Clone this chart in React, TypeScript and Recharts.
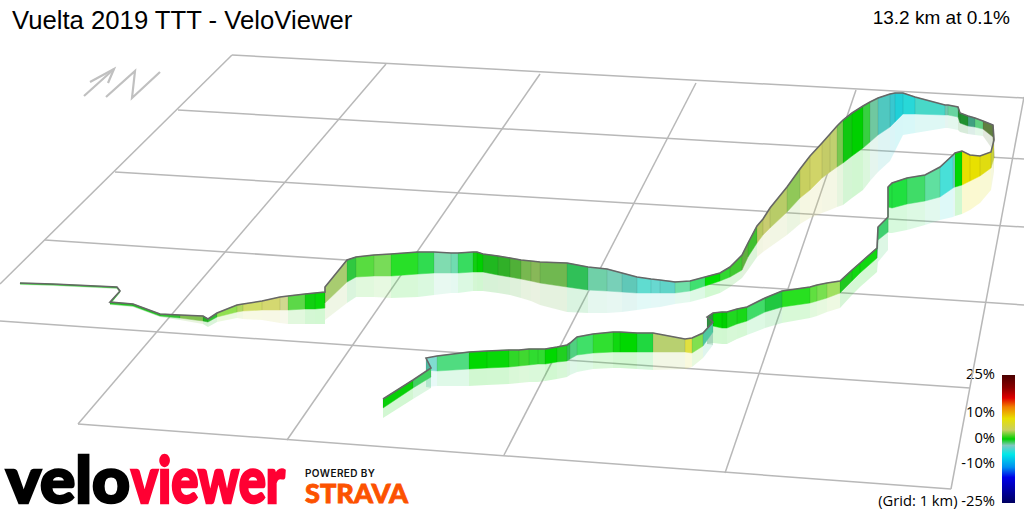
import { Area, ComposedChart, Line, XAxis, YAxis } from "recharts";

const WIDTH = 1024;
const HEIGHT = 512;

// route, in drawing order, start to finish
const routeX = [
  20, 53, 117, 120, 110, 133, 160, 180, 203, 208,
  217, 237, 243, 262, 280, 288, 305, 315, 325, 325,
  347, 356, 374, 391, 418, 434, 451, 458, 473, 477,
  483, 498, 510, 521, 531, 540, 567, 588, 607, 622,
  637, 651, 660, 675, 690, 705, 720, 730, 742, 748,
  757, 763, 770, 787, 800, 810, 822, 830, 837, 843,
  852, 863, 870, 878, 890, 895, 903, 915, 945, 948,
  958, 960, 968, 975, 983, 993, 994, 991, 980, 970,
  962, 955, 953, 940, 925, 907, 892, 888, 888, 878,
  877, 860, 852, 840, 827, 817, 810, 782, 765, 747,
  737, 727, 722, 713, 707, 713, 703, 692, 685, 653,
  637, 620, 613, 593, 577, 570, 567, 557, 545, 538,
  529, 519, 509, 487, 469, 437, 426, 431, 413, 383,
];
const routeTop = [
  283, 284, 287, 291, 302, 304, 314, 315, 316, 319,
  313, 305, 304, 301, 297, 296, 294, 293, 292, 287,
  260, 257, 255, 254, 252, 252, 253, 253, 252, 252,
  254, 256, 258, 260, 261, 262, 263, 267, 269, 273,
  277, 279, 280, 282, 281, 277, 273, 267, 255, 243,
  226, 219, 208, 187, 169, 156, 143, 134, 126, 120,
  113, 106, 102, 98, 94, 93, 93, 97, 105, 105,
  107, 113, 116, 118, 121, 125, 140, 152, 156, 155,
  151, 153, 155, 167, 175, 178, 183, 187, 217, 227,
  248, 263, 270, 281, 283, 285, 287, 291, 298, 307,
  309, 312, 312, 313, 317, 322, 333, 338, 339, 333,
  333, 332, 332, 334, 337, 343, 345, 347, 349, 349,
  349, 350, 350, 351, 352, 356, 358, 368, 380, 399,
];
const routeBase = [
  284, 285, 288, 292, 304, 306, 316, 318, 321, 322,
  317, 312, 311, 310, 310, 310, 309, 309, 308, 303,
  282, 277, 276, 276, 274, 273, 273, 273, 272, 272,
  272, 275, 277, 279, 281, 283, 287, 290, 291, 292,
  293, 293, 293, 293, 291, 286, 281, 277, 270, 257,
  243, 235, 228, 212, 198, 190, 178, 172, 167, 163,
  156, 148, 142, 135, 127, 122, 114, 114, 115, 115,
  117, 123, 126, 127, 129, 137, 158, 168, 176, 181,
  185, 187, 188, 197, 201, 204, 208, 207, 232, 240,
  258, 273, 281, 293, 298, 301, 303, 307, 312, 321,
  324, 328, 328, 326, 327, 332, 346, 353, 352, 352,
  352, 352, 352, 353, 355, 359, 361, 362, 364, 364,
  365, 366, 367, 368, 369, 371, 370, 377, 388, 408,
];
const routeGlow = [
  285, 286, 289, 293, 305, 307, 317, 320, 324, 327,
  322, 318, 319, 320, 323, 324, 324, 324, 324, 320,
  303, 297, 297, 298, 297, 295, 293, 293, 291, 291,
  291, 293, 295, 298, 301, 305, 312, 313, 313, 312,
  310, 308, 307, 304, 302, 298, 293, 287, 278, 270,
  257, 252, 247, 235, 224, 218, 213, 210, 207, 205,
  198, 190, 181, 172, 161, 151, 135, 133, 128, 128,
  130, 132, 134, 135, 136, 150, 172, 190, 203, 210,
  214, 216, 217, 220, 225, 230, 233, 233, 250, 262,
  272, 287, 295, 308, 312, 316, 318, 323, 328, 335,
  339, 344, 344, 343, 344, 345, 358, 367, 369, 370,
  369, 368, 368, 369, 372, 375, 377, 379, 381, 382,
  382, 383, 384, 385, 386, 386, 387, 388, 399, 418,
];
// one colour per stretch between two route points
const stretchColors = [
  "#20c020", "#20c020", "#20c020", "#20c020", "#20c020", "#20c020", "#30c030", "#80c050", "#20b020", "#30c030",
  "#90e050", "#b0d860", "#d0dc68", "#d4d870", "#d0d890", "#5cd848", "#10d010", "#08d808", "#a8cc70", "#a8cc70",
  "#30c840", "#58dc40", "#78dc58", "#28e028", "#30dc50", "#80dcb0", "#70dcb0", "#38dc60", "#10d010", "#00d000",
  "#20b820", "#30b028", "#50b038", "#78b850", "#88b858", "#70b850", "#30c058", "#70d0a8", "#78d0b8", "#60c8b8",
  "#60dcd0", "#68d8d0", "#60d4c8", "#70e0a8", "#40e070", "#00e000", "#30d830", "#40c830", "#60b040", "#40c030",
  "#b8c860", "#c8cc70", "#b8cc68", "#90c858", "#c8d060", "#d0d468", "#c4cc68", "#c0d070", "#78c850", "#10c810",
  "#00d000", "#38d040", "#70c8a0", "#50c8c0", "#38c8d0", "#20d0d8", "#28d8d8", "#48d8c8", "#70c8b0", "#68d4a0",
  "#209030", "#209030", "#40a080", "#60d080", "#608040", "#708030", "#c8d040", "#e0dc10", "#e8e000", "#e8e000",
  "#00d800", "#70d0c0", "#48e0d8", "#60e0a0", "#40dc68", "#20e040", "#20e040", "#20e040", "#40d070", "#40a070",
  "#10d810", "#10d810", "#20c820", "#a0e060", "#78e050", "#60e040", "#28e020", "#20c840", "#40dc68", "#18d818",
  "#20d820", "#00d000", "#00d800", "#309040", "#309040", "#50c8a0", "#80e050", "#e0e040", "#b8d070", "#20d840",
  "#00d800", "#10d810", "#30e030", "#40e068", "#50d080", "#30c050", "#20d020", "#00d800", "#30dc30", "#30dc30",
  "#40d830", "#30d828", "#08d808", "#00d800", "#50dc80", "#80dcd0", "#50b8a0", "#40d060", "#08d008",
];

// grid, as corner pairs
const gridLines = [
  [232, 55, 1024, 98],
  [178, 110, 1024, 159],
  [115, 172, 1024, 227],
  [45, 240, 1024, 305],
  [0, 321, 970, 388],
  [78, 424, 951, 489],
  [232, 55, 0, 284],
  [386, 64, 78, 424],
  [540, 74, 287, 440],
  [696, 83, 504, 455],
  [856, 90, 725, 473],
  [1024, 97, 951, 489],
];
const northArrowShaft = [[84, 96], [114, 69]];
const northArrowHead = [[90, 82], [114, 69], [108, 83]];
const northLetter = [[106, 97], [135, 71], [132, 98], [160, 72]];

const scaleStops = [
  [0, "#4a0000"], [0.1, "#8a0000"], [0.18, "#e00000"], [0.25, "#f08000"], [0.34, "#e8e000"],
  [0.43, "#c8d060"], [0.5, "#00d000"], [0.55, "#80c8c0"], [0.62, "#00e8e8"], [0.72, "#0090f0"],
  [0.8, "#0000e8"], [1, "#000060"],
] as const;
const scaleBar = [
  { x: 1002, band: [375, 503] },
  { x: 1015, band: [375, 503] },
];
const scaleLabels: [string, number][] = [
  ["25%", 379],
  ["10%", 417],
  ["0%", 443],
  ["-10%", 468],
  ["(Grid: 1 km) -25%", 506],
];

const LABEL_FONT = "'Open Sans', sans-serif";
const TITLE_FONT = "'Liberation Sans', sans-serif";
const LOGO_FONT = "Lato, sans-serif";
const indices = routeX.map((_, i) => i);
const routeLine = indices.map((i) => ({ x: routeX[i], y: routeTop[i] }));
const toPoints = (pts: number[][]) => pts.map(([x, y]) => ({ x, y }));

function stretch(lower: number[], upper: number[], i: number) {
  return [
    { x: routeX[i], band: [upper[i], lower[i]] },
    { x: routeX[i + 1], band: [upper[i + 1], lower[i + 1]] },
  ];
}

export default function App() {
  return (
    <div style={{ position: "absolute", left: 0, top: 0, width: WIDTH, height: HEIGHT, background: "#fff" }}>
      <ComposedChart width={WIDTH} height={HEIGHT} margin={{ top: 0, right: 0, bottom: 0, left: 0 }}>
        <defs>
          <linearGradient id="gradeScale" x1="0" y1="0" x2="0" y2="1">
            {scaleStops.map(([o, c]) => (
              <stop key={o} offset={o} stopColor={c} />
            ))}
          </linearGradient>
        </defs>
        <XAxis dataKey="x" type="number" domain={[0, WIDTH]} allowDataOverflow hide />
        <YAxis type="number" domain={[0, HEIGHT]} reversed allowDataOverflow hide />

        {gridLines.map(([x1, y1, x2, y2], i) => (
          <Line
            key={`grid-${i}`}
            data={toPoints([[x1, y1], [x2, y2]])}
            dataKey="y"
            stroke="#b8b8b8"
            strokeWidth={1.5}
            dot={false}
            activeDot={false}
            zIndex={50}
            isAnimationActive={false}
          />
        ))}
        {[northArrowShaft, northArrowHead, northLetter].map((pts, i) => (
          <Line
            key={`north-${i}`}
            data={toPoints(pts)}
            dataKey="y"
            stroke="#c0c0c0"
            strokeWidth={2.2}
            dot={false}
            activeDot={false}
            zIndex={50}
            isAnimationActive={false}
          />
        ))}

        {stretchColors.map((c, i) => (
          <Area
            key={`glow-${i}`}
            data={stretch(routeGlow, routeBase, i)}
            dataKey="band"
            fill={c}
            fillOpacity={0.18}
            stroke="none"
            dot={false}
            activeDot={false}
            isAnimationActive={false}
          />
        ))}
        {stretchColors.map((c, i) => (
          <Area
            key={`wall-${i}`}
            data={stretch(routeBase, routeTop, i)}
            dataKey="band"
            fill={c}
            fillOpacity={1}
            stroke={c}
            strokeWidth={0.5}
            dot={false}
            activeDot={false}
            isAnimationActive={false}
          />
        ))}
        {indices.map((i) => (
          <Line
            key={`edge-${i}`}
            data={[
              { x: routeX[i], y: routeTop[i] },
              { x: routeX[i], y: routeBase[i] },
            ]}
            dataKey="y"
            stroke="rgba(0,0,0,0.09)"
            strokeWidth={1}
            dot={false}
            activeDot={false}
            isAnimationActive={false}
          />
        ))}
        <Line
          data={routeLine}
          dataKey="y"
          stroke="#666666"
          strokeWidth={1.6}
          dot={false}
          activeDot={false}
          isAnimationActive={false}
        />

        <Area data={scaleBar} dataKey="band" fill="url(#gradeScale)" fillOpacity={1} stroke="none" dot={false} activeDot={false} isAnimationActive={false} />

        <text x={12} y={29} fontFamily={TITLE_FONT} fontSize={25.7} fill="#000">
          Vuelta 2019 TTT - VeloViewer
        </text>
        <text x={1010} y={24} textAnchor="end" fontFamily={TITLE_FONT} fontSize={19} fill="#000">
          13.2 km at 0.1%
        </text>
        {scaleLabels.map(([t, y]) => (
          <text key={t} x={995} y={y} textAnchor="end" fontFamily={LABEL_FONT} fontSize={14.7} fill="#000">
            {t}
          </text>
        ))}

        <text x={6} y={503} textLength={124} lengthAdjust="spacingAndGlyphs" fontFamily={LOGO_FONT} fontWeight={900} fontSize={64} fill="#000" stroke="#000" strokeWidth={2.5}>
          velo
        </text>
        <text x={131} y={503} textLength={154} lengthAdjust="spacingAndGlyphs" fontFamily={LOGO_FONT} fontWeight={900} fontSize={64} fill="#ff0033" stroke="#ff0033" strokeWidth={2.5}>
          viewer
        </text>
        <text x={305} y={477} textLength={70} fontFamily="Inter, sans-serif" fontWeight={600} fontSize={10} fill="#111">
          POWERED BY
        </text>
        <text x={305} y={503} textLength={103} lengthAdjust="spacingAndGlyphs" fontFamily={LOGO_FONT} fontWeight={900} fontSize={27} fill="#fc5200" stroke="#fc5200" strokeWidth={0.8}>
          STRAVA
        </text>
      </ComposedChart>
    </div>
  );
}
